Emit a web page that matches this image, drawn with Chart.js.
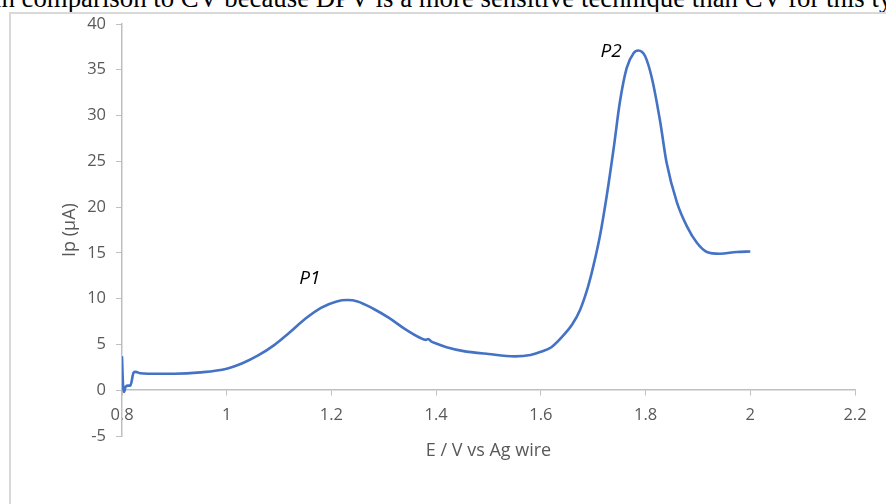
<!DOCTYPE html>
<html>
<head>
<meta charset="utf-8">
<script src="https://cdn.jsdelivr.net/npm/chart.js@4.4.1/dist/chart.umd.min.js"></script>
<style>
  html, body { margin: 0; padding: 0; background: #fff; overflow: hidden; }
  #wrap { position: relative; width: 886px; height: 504px; overflow: hidden; }
  #caption {
    position: absolute; left: -6px; top: -15px; white-space: nowrap;
    font-family: "Liberation Serif", serif; font-size: 26.8px; line-height: 27px; color: #000;
  }
  #frame {
    position: absolute; left: 9px; top: 12px; width: 1000px; height: 600px;
    border-left: 2px solid #d9d9d9; border-top: 2px solid #d9d9d9;
  }
  canvas { position: absolute; left: 0; top: 0; }
</style>
</head>
<body>
<div id="wrap">
  <div id="caption">in comparison to CV because DPV is a more sensitive technique than CV for this type</div>
  <div id="frame"></div>
  <canvas id="dpv" width="886" height="504"></canvas>
</div>
<script>
  // potential (V vs Ag wire) and peak current (µA)
  const potential = [0.800, 0.802, 0.804, 0.807, 0.812, 0.816, 0.822, 0.826, 0.835, 0.85,
    0.90, 0.95, 1.00, 1.03, 1.06, 1.09, 1.12, 1.15, 1.18, 1.21,
    1.23, 1.25, 1.28, 1.31, 1.34, 1.37, 1.38, 1.385, 1.39, 1.40,
    1.42, 1.45, 1.50, 1.55, 1.58, 1.60, 1.62, 1.64, 1.66, 1.675,
    1.69, 1.70, 1.713, 1.726, 1.739, 1.751, 1.764, 1.777, 1.786, 1.799,
    1.812, 1.828, 1.840, 1.860, 1.879, 1.898, 1.917, 1.942, 1.974, 2.00];
  const current = [3.7, 0.5, -0.2, 0.4, 0.5, 0.5, 1.9, 2.0, 1.85, 1.8,
    1.8, 1.95, 2.35, 2.95, 3.8, 4.9, 6.3, 7.8, 9.0, 9.7,
    9.85, 9.7, 8.9, 7.9, 6.7, 5.7, 5.5, 5.6, 5.35, 5.1,
    4.7, 4.3, 3.95, 3.7, 3.85, 4.2, 4.7, 5.8, 7.2, 8.8,
    11.3, 13.5, 16.9, 21.3, 26.4, 31.5, 35.2, 36.8, 37.1, 36.5,
    34.1, 29.3, 24.9, 20.5, 17.9, 16.1, 15.1, 14.9, 15.1, 15.15];

  const xTicks = [0.8, 1.0, 1.2, 1.4, 1.6, 1.8, 2.0, 2.2];
  const yTicks = [-5, 0, 5, 10, 15, 20, 25, 30, 35, 40];

  // peak labels, placed in data units
  const peakNames = ['P1', 'P2'];
  const peakAt = [[1.159, 12.2], [1.734, 37.0]];

  const axisGrey = '#bfbfbf';
  const labelGrey = '#595959';

  const peakLabels = {
    id: 'peakLabels',
    afterDatasetsDraw(chart) {
      const { ctx, scales: { x, y } } = chart;
      ctx.save();
      ctx.font = 'italic 19px "Open Sans"';
      ctx.fillStyle = '#000';
      ctx.textAlign = 'center';
      ctx.textBaseline = 'middle';
      peakNames.forEach((name, i) => {
        ctx.fillText(name, x.getPixelForValue(peakAt[i][0]), y.getPixelForValue(peakAt[i][1]));
      });
      ctx.restore();
    }
  };

  new Chart(document.getElementById('dpv'), {
    type: 'line',
    data: {
      datasets: [{
        data: potential.map((v, i) => ({ x: v, y: current[i] })),
        borderColor: '#4472c4',
        borderWidth: 2.6,
        pointRadius: 0,
        cubicInterpolationMode: 'monotone',
        fill: false
      }]
    },
    options: {
      responsive: false,
      animation: false,
      layout: { padding: { left: 55, top: 24, right: 31, bottom: 68 } },
      plugins: { legend: { display: false }, tooltip: { enabled: false } },
      scales: {
        x: {
          type: 'linear',
          position: { y: 0 },
          min: xTicks[0],
          max: xTicks[xTicks.length - 1],
          afterBuildTicks: s => { s.ticks = xTicks.map(v => ({ value: v })); },
          grid: { drawOnChartArea: false, drawTicks: true, tickLength: 5, tickColor: axisGrey },
          border: { color: axisGrey, width: 1.5 },
          ticks: {
            color: labelGrey, font: { family: 'Open Sans', size: 16.5 }, padding: 10,
            autoSkip: false, maxRotation: 0,
            callback: v => String(+v.toFixed(1))
          },
          title: {
            display: true, text: 'E / V vs Ag wire', color: labelGrey,
            font: { family: 'Open Sans', size: 18 }, padding: { top: 5, bottom: 4 }
          }
        },
        y: {
          min: yTicks[0],
          max: yTicks[yTicks.length - 1],
          afterBuildTicks: s => { s.ticks = yTicks.map(v => ({ value: v })); },
          afterFit: s => { s.width = 67; },
          grid: { drawOnChartArea: false, drawTicks: true, tickLength: 6, tickColor: axisGrey },
          border: { color: axisGrey, width: 1.5 },
          ticks: { color: labelGrey, font: { family: 'Open Sans', size: 16.5 }, padding: 10 },
          title: {
            display: true, text: 'Ip (µA)', color: labelGrey,
            font: { family: 'Open Sans', size: 18 }, padding: { top: 4, bottom: 4 }
          }
        }
      }
    },
    plugins: [peakLabels]
  });
</script>
</body>
</html>
